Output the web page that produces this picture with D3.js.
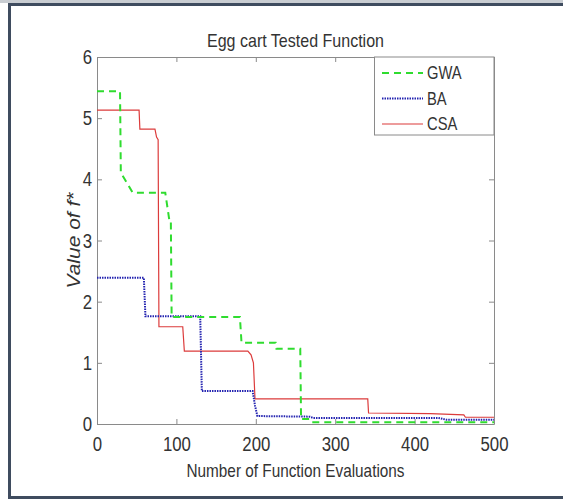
<!DOCTYPE html>
<html>
<head>
<meta charset="utf-8">
<script src="https://cdn.jsdelivr.net/npm/d3@7"></script>
<style>
  body { margin: 0; background: #fff; }
  svg text { font-family: "Liberation Sans Narrow", "Arial Narrow", "Liberation Sans", Arial, sans-serif; fill: #333; }
</style>
</head>
<body>
<div id="chart"></div>
<script>
// data: [function evaluations, value of f*]
const gwa = [[0,5.44],[29,5.44],[30,4.11],[45,3.78],[86,3.78],[91,3.34],[93,3.34],[94,1.75],[180,1.75],[182,1.33],[225,1.33],[226,1.23],[256,1.23],[257,0.08],[268,0.08],[270,0.03],[500,0.03]];
const ba = [[0,2.39],[59,2.39],[61,1.76],[130,1.76],[132,0.54],[196,0.54],[199,0.3],[202,0.13],[268,0.12],[272,0.1],[430,0.1],[440,0.07],[500,0.07]];
const csa = [[0,5.13],[53,5.13],[54,4.82],[73,4.82],[75,4.69],[77,4.65],[78,1.59],[108,1.59],[110,1.19],[190,1.19],[194,1.13],[197,1.0],[199,0.41],[341,0.41],[342,0.18],[420,0.17],[462,0.15],[464,0.11],[500,0.11]];
const xTicks = [0, 100, 200, 300, 400, 500];
const yTicks = [0, 1, 2, 3, 4, 5, 6];
const seriesNames = ['GWA', 'BA', 'CSA'];

const width = 563, height = 500;
const margin = { left: 97, right: 69, top: 57, bottom: 76 };
const squeeze = 0.82; // no narrow font installed, so squeeze text by hand

const svg = d3.select('#chart').append('svg')
    .attr('width', width)
    .attr('height', height);

// scanned page frame
svg.append('rect').attr('x', 0).attr('y', 0).attr('width', width).attr('height', 3).attr('fill', '#c9cdd2');
svg.append('path')
    .attr('d', `M${width},4.5H9.5V497.5H${width}`)
    .attr('fill', 'none')
    .attr('stroke', '#3f4c5f')
    .attr('stroke-width', 3);

const xScale = d3.scaleLinear().domain([0, 500]).range([margin.left, width - margin.right]);
const yScale = d3.scaleLinear().domain([0, 6]).range([height - margin.bottom, margin.top]);

const axisColor = '#8a8a8a';

const xAxis = d3.axisBottom(xScale).tickValues(xTicks).tickSizeInner(-5).tickSizeOuter(0).tickPadding(12).tickFormat(d3.format('d'));
const yAxis = d3.axisLeft(yScale).tickValues(yTicks).tickSizeInner(-5).tickSizeOuter(0).tickPadding(7).tickFormat(d3.format('d'));
const xTop = d3.axisTop(xScale).tickValues(xTicks).tickSizeInner(-5).tickSizeOuter(0).tickFormat('');
const yRight = d3.axisRight(yScale).tickValues(yTicks).tickSizeInner(-5).tickSizeOuter(0).tickFormat('');

function styleAxis(g) {
    g.select('.domain').attr('stroke', axisColor);
    g.selectAll('.tick line').attr('stroke', axisColor);
    g.selectAll('.tick text')
        .attr('font-size', 20.5)
        .attr('fill', '#333')
        .attr('font-family', null);
}

svg.append('g').attr('transform', `translate(0,${yScale(0)})`).call(xAxis).call(styleAxis)
    .selectAll('.tick text').attr('transform', `scale(${squeeze},1)`);
svg.append('g').attr('transform', `translate(${xScale(0)},0)`).call(yAxis).call(styleAxis)
    .selectAll('.tick text').attr('x', -6).attr('transform', `scale(${squeeze},1)`);
svg.append('g').attr('transform', `translate(0,${yScale(6)})`).call(xTop).call(styleAxis);
svg.append('g').attr('transform', `translate(${xScale(500)},0)`).call(yRight).call(styleAxis);

const line = d3.line()
    .x(d => xScale(d[0]))
    .y(d => yScale(d[1]));

const styles = {
    GWA: { color: '#2fdc2f', dash: '7,5', width: 2 },
    BA: { color: '#2323b0', dash: '1.5,1', width: 2 },
    CSA: { color: '#dc3b3b', dash: null, width: 1.2 }
};
const seriesData = { GWA: gwa, BA: ba, CSA: csa };

['CSA', 'BA', 'GWA'].forEach(name => {
    svg.append('path')
        .datum(seriesData[name])
        .attr('d', line)
        .attr('fill', 'none')
        .attr('stroke', styles[name].color)
        .attr('stroke-width', styles[name].width)
        .attr('stroke-dasharray', styles[name].dash);
});

// title and axis labels
const midX = (xScale(0) + xScale(500)) / 2;
svg.append('text')
    .attr('x', midX)
    .attr('y', 47)
    .attr('text-anchor', 'middle')
    .attr('font-size', 19)
    .attr('textLength', 177)
    .attr('lengthAdjust', 'spacingAndGlyphs')
    .text('Egg cart Tested Function');

svg.append('text')
    .attr('x', midX)
    .attr('y', 477)
    .attr('text-anchor', 'middle')
    .attr('font-size', 19)
    .attr('textLength', 218)
    .attr('lengthAdjust', 'spacingAndGlyphs')
    .text('Number of Function Evaluations');

svg.append('text')
    .attr('transform', `translate(80,${(yScale(0) + yScale(6)) / 2}) rotate(-90)`)
    .attr('text-anchor', 'middle')
    .attr('font-size', 19)
    .attr('font-style', 'italic')
    .attr('textLength', 96)
    .attr('lengthAdjust', 'spacingAndGlyphs')
    .text('Value of f*');

// legend
const legend = svg.append('g');
legend.append('rect')
    .attr('x', 374.5).attr('y', yScale(6))
    .attr('width', xScale(500) - 374.5).attr('height', 78)
    .attr('fill', '#fff')
    .attr('stroke', axisColor);

seriesNames.forEach((name, i) => {
    const y = 73 + i * 25.5;
    legend.append('line')
        .attr('x1', 382).attr('x2', 423)
        .attr('y1', y).attr('y2', y)
        .attr('stroke', styles[name].color)
        .attr('stroke-width', styles[name].width)
        .attr('stroke-dasharray', styles[name].dash);
    legend.append('text')
        .attr('transform', `translate(427,${y + 6}) scale(${squeeze},1)`)
        .attr('font-size', 18)
        .text(name);
});
</script>
</body>
</html>
